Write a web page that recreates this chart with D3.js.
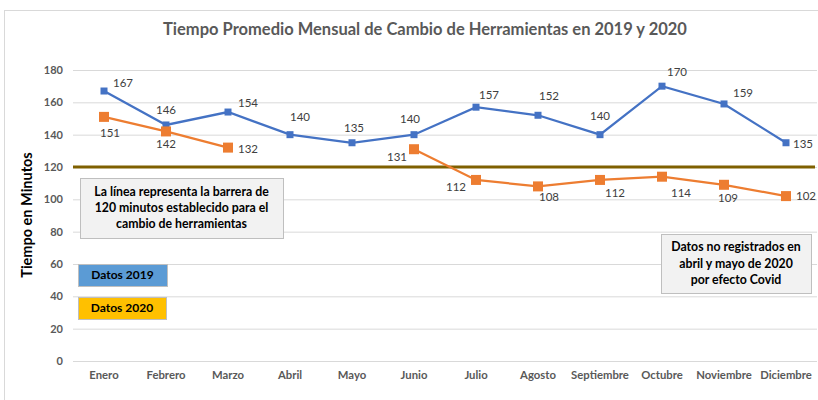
<!DOCTYPE html>
<html>
<head>
<meta charset="utf-8">
<script src="https://cdnjs.cloudflare.com/ajax/libs/d3/7.8.5/d3.min.js"></script>
<style>
  body { margin: 0; background: #fff; }
  text { font-family: Lato, "Open Sans", sans-serif; }
</style>
</head>
<body>
<div class="chart"></div>
<script>
// data
var months = ["Enero", "Febrero", "Marzo", "Abril", "Mayo", "Junio", "Julio",
  "Agosto", "Septiembre", "Octubre", "Noviembre", "Diciembre"];
var datos2019 = [167, 146, 154, 140, 135, 140, 157, 152, 140, 170, 159, 135];
var datos2020 = [151, 142, 132, null, null, 131, 112, 108, 112, 114, 109, 102];
var yTicks = [0, 20, 40, 60, 80, 100, 120, 140, 160, 180];
var barrera = 120;

// label offsets (dx, dy) relative to each point
var off2019 = [[19, -8], [0, -15], [20, -9], [10, -18], [2, -15], [-4, -16], [13, -12], [11, -19], [0, -19], [15, -14], [19, -11], [17, 1]];
var off2020 = [[6, 16], [0, 13], [20, 1], null, null, [-17, 8], [-20, 7], [11, 11], [15, 13], [19, 16], [4, 13], [20, 0]];

var svgWidth = 818;
var svgHeight = 400;

var svg = d3.select(".chart")
  .append("svg")
  .attr("width", svgWidth)
  .attr("height", svgHeight);

// outer chart frame
svg.append("rect")
  .attr("x", 4.5).attr("y", 10.5)
  .attr("width", 830).attr("height", 400)
  .attr("fill", "#fff")
  .attr("stroke", "#d9d9d9");

// scales
var xScale = d3.scaleBand().domain(months).range([73, 817]);
var yScale = d3.scaleLinear().domain([0, 180]).range([361, 70]);
var xc = function(m) { return xScale(m) + xScale.bandwidth() / 2; };

// title
svg.append("text")
  .attr("x", 425).attr("y", 35)
  .attr("text-anchor", "middle")
  .attr("font-size", 16.5)
  .attr("font-weight", "bold")
  .attr("fill", "#595959")
  .text("Tiempo Promedio Mensual de Cambio de Herramientas en 2019 y 2020");

// grid + y axis
var leftAxis = d3.axisLeft(yScale).tickValues(yTicks).tickSize(-(817 - 73)).tickPadding(10);
var yAxisG = svg.append("g")
  .attr("transform", "translate(73,0)")
  .call(leftAxis);
yAxisG.select(".domain").remove();
yAxisG.selectAll("line").attr("stroke", "#d9d9d9");
yAxisG.selectAll("text")
  .attr("font-size", 11)
  .attr("font-weight", "bold")
  .attr("fill", "#595959")
  .style("font-family", "Lato, sans-serif");

// x axis labels
var bottomAxis = d3.axisBottom(xScale).tickSize(0).tickPadding(10);
var xAxisG = svg.append("g")
  .attr("transform", "translate(0,361)")
  .call(bottomAxis);
xAxisG.select(".domain").remove();
xAxisG.selectAll("text")
  .attr("font-size", 11.3)
  .attr("font-weight", "bold")
  .attr("fill", "#595959")
  .style("font-family", "Lato, sans-serif");

// y axis title
svg.append("text")
  .attr("transform", "translate(32,215) rotate(-90)")
  .attr("text-anchor", "middle")
  .attr("font-size", 14.5)
  .attr("font-weight", "bold")
  .attr("fill", "#000")
  .text("Tiempo en Minutos");

// barrier line
svg.append("line")
  .attr("x1", 73).attr("x2", 815)
  .attr("y1", yScale(barrera)).attr("y2", yScale(barrera))
  .attr("stroke", "#7F6000")
  .attr("stroke-width", 3);

// series
function drawSeries(values, color, markerSize, offsets) {
  var pts = months.map(function(m, i) { return { m: m, v: values[i], o: offsets[i] }; });
  var line = d3.line()
    .defined(function(d) { return d.v != null; })
    .x(function(d) { return xc(d.m); })
    .y(function(d) { return yScale(d.v); });

  svg.append("path")
    .datum(pts)
    .attr("d", line)
    .attr("fill", "none")
    .attr("stroke", color)
    .attr("stroke-width", 2.25);

  var valid = pts.filter(function(d) { return d.v != null; });

  svg.selectAll(null)
    .data(valid)
    .enter()
    .append("rect")
    .attr("x", function(d) { return xc(d.m) - markerSize / 2; })
    .attr("y", function(d) { return yScale(d.v) - markerSize / 2; })
    .attr("width", markerSize)
    .attr("height", markerSize)
    .attr("fill", color);

  svg.selectAll(null)
    .data(valid)
    .enter()
    .append("text")
    .attr("x", function(d) { return xc(d.m) + d.o[0]; })
    .attr("y", function(d) { return yScale(d.v) + d.o[1]; })
    .attr("dy", "0.35em")
    .attr("text-anchor", "middle")
    .attr("font-size", 11.5)
    .attr("fill", "#404040")
    .text(function(d) { return d.v; });
}

drawSeries(datos2019, "#4472C4", 7, off2019);
drawSeries(datos2020, "#ED7D31", 10, off2020);

// text boxes
function textBox(x, y, w, h, fill, lines, lineH, size) {
  svg.append("rect")
    .attr("x", x + 0.5).attr("y", y + 0.5)
    .attr("width", w).attr("height", h)
    .attr("fill", fill)
    .attr("stroke", "#bfbfbf");
  var start = y + h / 2 - (lines.length - 1) * lineH / 2;
  lines.forEach(function(t, i) {
    svg.append("text")
      .attr("x", x + w / 2)
      .attr("y", start + i * lineH)
      .attr("dy", "0.35em")
      .attr("text-anchor", "middle")
      .attr("font-size", size)
      .attr("font-weight", "bold")
      .attr("fill", "#000")
      .text(t);
  });
}

textBox(80, 178, 203, 60, "#f2f2f2",
  ["La línea representa la barrera de", "120 minutos establecido para el", "cambio de herramientas"], 16, 12.3);
textBox(78, 264, 89, 22, "#5B9BD5", ["Datos 2019"], 16, 12);
textBox(78, 297, 88, 22, "#FFC000", ["Datos 2020"], 16, 12);
textBox(661, 234, 150, 59, "#f2f2f2",
  ["Datos no registrados en", "abril y mayo de 2020", "por efecto Covid"], 16.5, 12.3);
</script>
</body>
</html>
